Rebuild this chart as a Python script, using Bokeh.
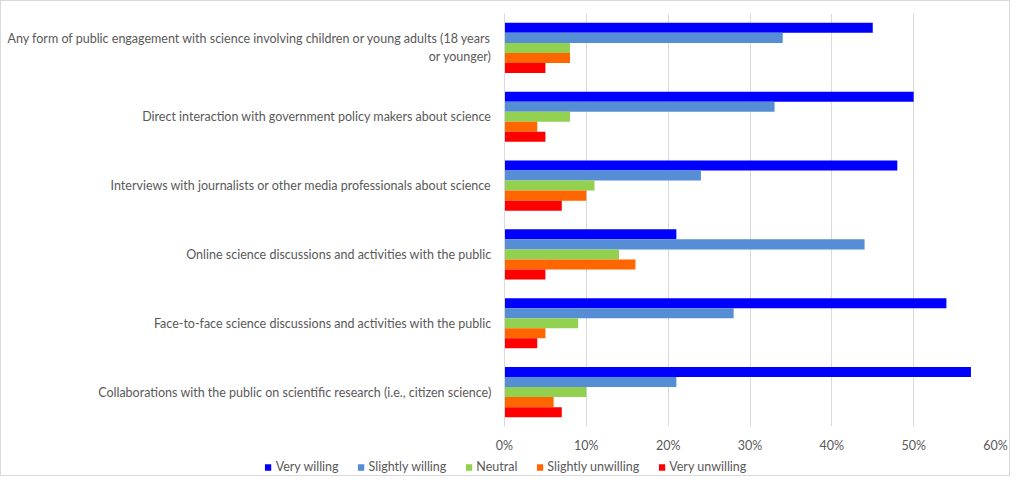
from bokeh.plotting import figure
from bokeh.layouts import column
from bokeh.models import FactorRange, Legend, LegendItem, PrintfTickFormatter, FixedTicker, ColumnDataSource
from bokeh.transform import dodge
from bokeh.embed import file_html
from bokeh.resources import INLINE

# categories, top to bottom
categories = [
    "Any form of public engagement with science involving children or young adults (18 years\nor younger)",
    "Direct interaction with government policy makers about science",
    "Interviews with journalists or other media professionals about science",
    "Online science discussions and activities with the public",
    "Face-to-face science discussions and activities with the public",
    "Collaborations with the public on scientific research (i.e., citizen science)",
]
series_names = ["Very willing", "Slightly willing", "Neutral", "Slightly unwilling", "Very unwilling"]
very_willing = [45, 50, 48, 21, 54, 57]
slightly_willing = [34, 33, 24, 44, 28, 21]
neutral = [8, 8, 11, 14, 9, 10]
slightly_unwilling = [8, 4, 10, 16, 5, 6]
very_unwilling = [5, 5, 7, 5, 4, 7]
x_ticks = [0, 10, 20, 30, 40, 50, 60]

series_values = [very_willing, slightly_willing, neutral, slightly_unwilling, very_unwilling]
colors = ["#0000FF", "#558ED5", "#92D050", "#FF6600", "#FF0000"]

FONT = "Lato"
FS = "12.5px"
TXT = "#595959"

p = figure(
    width=1008, height=454,
    y_range=FactorRange(factors=categories[::-1]),
    x_range=(0, 60),
    output_backend="svg", toolbar_location=None,
    min_border_left=503, min_border_right=14, min_border_top=12, min_border_bottom=28,
)
p.outline_line_color = None
p.background_fill_color = "white"
p.border_fill_color = "white"

bar_h = 0.1457
offsets = [2 * bar_h, bar_h, 0.0, -bar_h, -2 * bar_h]
sources = []
for name, vals, col, off in zip(series_names, series_values, colors, offsets):
    src = ColumnDataSource(dict(cat=categories, val=vals))
    sources.append(src)
    p.hbar(y=dodge("cat", off, range=p.y_range), right="val", left=0, height=bar_h,
           source=src, fill_color=col, line_color=None)

p.xaxis.ticker = FixedTicker(ticks=x_ticks)
p.xaxis.formatter = PrintfTickFormatter(format="%d%%")
p.xaxis.axis_line_color = None
p.xaxis.major_tick_line_color = None
p.xaxis.minor_tick_line_color = None
p.xaxis.major_tick_out = 0
p.xaxis.major_tick_in = 0
p.xaxis.minor_tick_out = 0
p.xaxis.major_label_standoff = 11
p.xaxis.major_label_text_font = FONT
p.xaxis.major_label_text_font_size = FS
p.xaxis.major_label_text_color = TXT

p.yaxis.axis_line_color = "#d9d9d9"
p.yaxis.major_tick_line_color = None
p.yaxis.minor_tick_line_color = None
p.yaxis.major_tick_out = 0
p.yaxis.major_tick_in = 0
p.yaxis.minor_tick_out = 0
p.yaxis.major_label_standoff = 13
p.yaxis.major_label_text_font = FONT
p.yaxis.major_label_text_font_size = FS
p.yaxis.major_label_text_color = TXT

p.xgrid.grid_line_color = "#d9d9d9"
p.ygrid.grid_line_color = None

# legend strip: a second figure whose own bars fall outside its ranges,
# used only to carry the legend swatches
lf = figure(width=1008, height=20, x_range=(0, 1), y_range=FactorRange(factors=["legend"]),
            x_axis_type=None, y_axis_type=None,
            output_backend="svg", toolbar_location=None,
            min_border_left=0, min_border_right=0, min_border_top=0, min_border_bottom=0)
lf.outline_line_color = None
lf.grid.grid_line_color = None
lf.background_fill_color = "white"
items = []
for name, col, src in zip(series_names, colors, sources):
    r = lf.hbar(y="cat", right="val", left=0, height=0.5, source=src,
                fill_color=col, line_color=None)
    items.append(LegendItem(label=name, renderers=[r]))
legend = Legend(
    items=items, orientation="horizontal", location="bottom_center",
    glyph_width=8, glyph_height=8, label_standoff=4, spacing=18, label_height=14,
    padding=0, margin=1, border_line_color=None, background_fill_alpha=0,
    label_text_font=FONT, label_text_font_size=FS, label_text_color=TXT,
)
lf.add_layout(legend, "center")

layout = column(p, column(lf))
layout.styles = {"border": "1px solid #d9d9d9"}

open("out.html", "w").write(file_html(layout, INLINE))
